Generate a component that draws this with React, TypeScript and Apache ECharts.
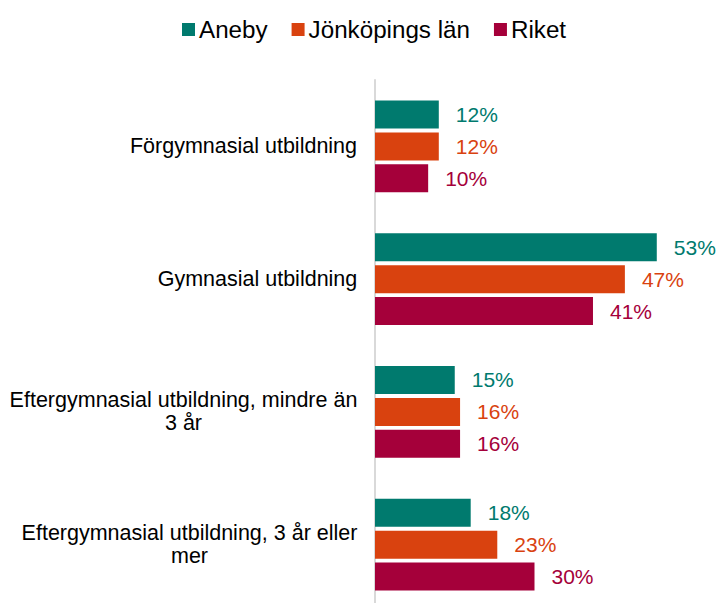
import React, { useEffect, useRef } from "react";
import * as echarts from "echarts";

const categories = [
  "Förgymnasial utbildning",
  "Gymnasial utbildning",
  "Eftergymnasial utbildning, mindre än\n3 år",
  "Eftergymnasial utbildning, 3 år eller\nmer",
];
const seriesNames = ["Aneby", "Jönköpings län", "Riket"];
const aneby = [12, 53, 15, 18];
const jonkoping = [12, 47, 16, 23];
const riket = [10, 41, 16, 30];
const colors = ["#007A6E", "#D9420F", "#A5003A"];

const FONT = '"Liberation Sans", Arial, sans-serif';
const CAT_SIZE = 21.5;

function measure(text: string, size: number): number {
  const c = document.createElement("canvas");
  const ctx = c.getContext("2d");
  if (!ctx) return text.length * size * 0.5;
  ctx.font = `${size}px ${FONT}`;
  return ctx.measureText(text).width;
}

export default function App() {
  const ref = useRef<HTMLDivElement>(null);
  useEffect(() => {
    if (!ref.current) return;
    const chart = echarts.init(ref.current, null, { renderer: "svg" });
    const rich: Record<string, any> = {};
    categories.forEach((cat, i) => {
      const lines = cat.split("\n");
      const w = Math.max(...lines.map((l) => measure(l, CAT_SIZE)));
      rich["c" + i] = {
        width: Math.ceil(w) + 1,
        align: "center",
        fontSize: CAT_SIZE,
        fontFamily: FONT,
        color: "#000",
        lineHeight: 23,
      };
    });
    const data = [aneby, jonkoping, riket];
    chart.setOption({
      animation: false,
      textStyle: { fontFamily: FONT },
      legend: {
        data: seriesNames,
        left: 182,
        top: 16,
        padding: 0,
        itemWidth: 13,
        itemHeight: 13,
        itemGap: 24,
        icon: "rect",
        textStyle: {
          fontSize: 24.2,
          lineHeight: 27,
          color: "#000",
          fontFamily: FONT,
          padding: [0, 0, 0, -1],
        },
      },
      grid: { left: 375, right: 23, top: 80, bottom: 9, containLabel: false },
      xAxis: {
        type: "value",
        min: 0,
        max: 60,
        show: false,
      },
      yAxis: {
        type: "category",
        data: categories,
        inverse: true,
        axisLine: { show: true, lineStyle: { color: "#D9D9D9", width: 2 } },
        axisTick: { show: false },
        axisLabel: {
          margin: 17,
          formatter: (value: string, idx: number) =>
            value
              .split("\n")
              .map((l) => `{c${idx}|${l}}`)
              .join("\n"),
          rich,
        },
      },
      series: seriesNames.map((name, i) => ({
        name,
        type: "bar",
        data: data[i],
        barWidth: 28,
        barGap: "14%",
        itemStyle: { color: colors[i] },
        label: {
          show: true,
          position: "right",
          distance: 17,
          formatter: "{c}%",
          color: colors[i],
          fontSize: 21,
          fontFamily: FONT,
        },
      })),
    });
    return () => chart.dispose();
  }, []);
  return (
    <div
      style={{
        position: "fixed",
        left: 0,
        top: 0,
        width: 717,
        height: 603,
        overflow: "hidden",
        background: "#fff",
      }}
    >
      <div ref={ref} style={{ width: 717, height: 620 }} />
    </div>
  );
}
